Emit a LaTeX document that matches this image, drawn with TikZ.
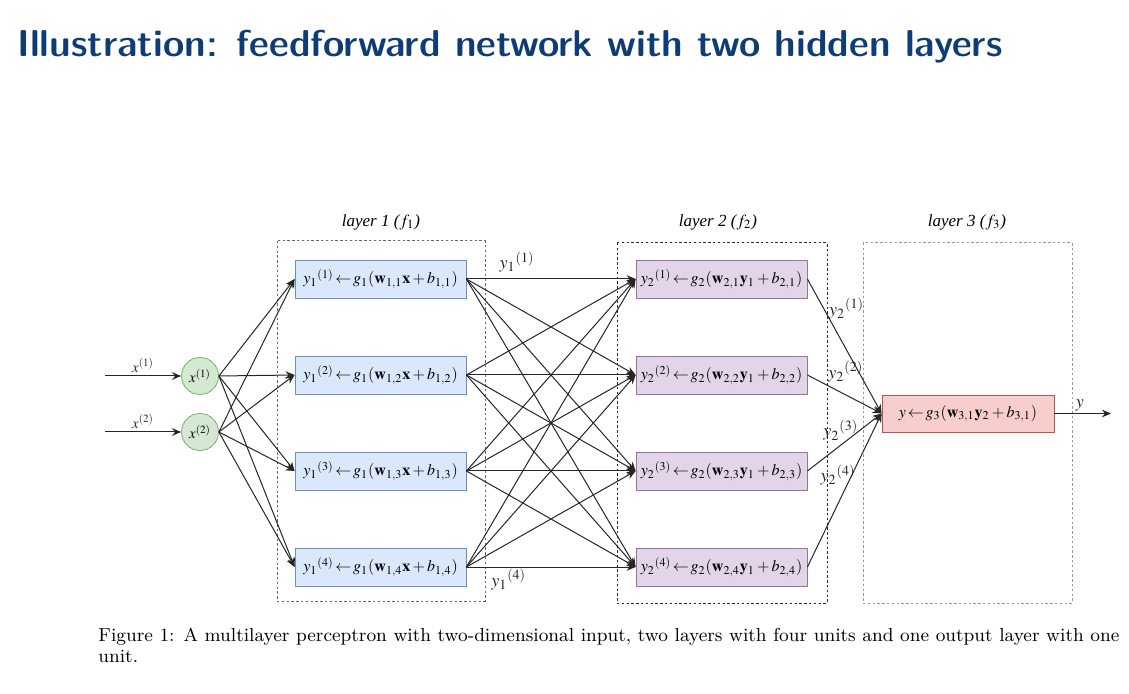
\documentclass[tikz,border=0pt]{standalone}
\usepackage{mathptmx}
\renewcommand{\rmdefault}{lmr}
\usepackage[no-math]{fontspec}
\usepackage{tikz}
\usetikzlibrary{positioning,arrows.meta}
\newfontfamily\drawiofont{Liberation Serif}
\definecolor{titleblue}{HTML}{0E3C74}
\definecolor{inputfill}{HTML}{D5E8D4}
\definecolor{inputline}{HTML}{82B366}
\definecolor{hiddenonefill}{HTML}{DAE8FC}
\definecolor{hiddenoneline}{HTML}{6C8EBF}
\definecolor{hiddentwofill}{HTML}{E1D5E7}
\definecolor{hiddentwoline}{HTML}{9673A6}
\definecolor{outputfill}{HTML}{F8CECC}
\definecolor{outputline}{HTML}{B85450}
\newcommand{\unitgets}{\!\leftarrow\!}
\tikzset{
  unitbox/.style={draw, minimum width=85.5pt, minimum height=19pt, inner sep=0pt, font=\fontsize{8}{9}\selectfont},
  inputnode/.style={circle, draw=inputline, fill=inputfill, minimum size=18.5pt, inner sep=0pt, font=\fontsize{7.5}{8}\selectfont},
  layeronenode/.style={unitbox, draw=hiddenoneline, fill=hiddenonefill},
  layertwonode/.style={unitbox, draw=hiddentwoline, fill=hiddentwofill},
  outputnode/.style={unitbox, minimum width=86pt, minimum height=18.5pt, draw=outputline, fill=outputfill},
  layerframe/.style={line width=0.5pt, dash pattern=on 1.2pt off 1.2pt},
  layerlabel/.style={font=\drawiofont\itshape\fontsize{8.5}{9}\selectfont},
  link/.style={-{Stealth[length=4.5pt,width=3.8pt]}, line width=0.5pt, black!85},
  edgelabel/.style={font=\fontsize{9}{10}\selectfont, inner sep=1pt},
  inlabel/.style={font=\fontsize{7.5}{8}\selectfont, inner sep=1.5pt}
}
\begin{document}
\begin{tikzpicture}[x=0.5pt,y=-0.5pt]
\useasboundingbox (0,0) rectangle (1129,694);
\node[anchor=base west, inner sep=0pt, text=titleblue, font=\sffamily\fontseries{sbc}\selectfont\fontsize{18.7}{20}\selectfont] (title) at (17,57) {\resizebox{492.5pt}{\height}{Illustration: feedforward network with two hidden layers}};

\draw[layerframe, black!60] (277,241) rectangle (485,601);
\draw[layerframe, black!85] (617,243) rectangle (827,603);
\draw[layerframe, black!40] (863,243) rectangle (1072,603);
\node[layerlabel] (lab1) at (381,222) {layer 1 ($f_1$)};
\node[layerlabel] (lab2) at (718,222) {layer 2 ($f_2$)};
\node[layerlabel] (lab3) at (967,222) {layer 3 ($f_3$)};

\coordinate (in1) at (105,376);
\coordinate (in2) at (105,432);
\coordinate (yend) at (1111,413.5);
\node[inputnode] (x1) at (200,376) {$x^{(1)}$};
\node[inputnode] (x2) at (200,432) {$x^{(2)}$};

\node[layeronenode] (h11) at (380.5,279) {$y_1{}^{(1)} \unitgets g_1(\mathbf{w}_{1,1}\mathbf{x} + b_{1,1})$};
\node[layeronenode] (h12) at (380.5,375) {$y_1{}^{(2)} \unitgets g_1(\mathbf{w}_{1,2}\mathbf{x} + b_{1,2})$};
\node[layeronenode] (h13) at (380.5,471) {$y_1{}^{(3)} \unitgets g_1(\mathbf{w}_{1,3}\mathbf{x} + b_{1,3})$};
\node[layeronenode] (h14) at (380.5,567) {$y_1{}^{(4)} \unitgets g_1(\mathbf{w}_{1,4}\mathbf{x} + b_{1,4})$};

\node[layertwonode] (h21) at (721.5,279) {$y_2{}^{(1)} \unitgets g_2(\mathbf{w}_{2,1}\mathbf{y}_1 + b_{2,1})$};
\node[layertwonode] (h22) at (721.5,375) {$y_2{}^{(2)} \unitgets g_2(\mathbf{w}_{2,2}\mathbf{y}_1 + b_{2,2})$};
\node[layertwonode] (h23) at (721.5,471) {$y_2{}^{(3)} \unitgets g_2(\mathbf{w}_{2,3}\mathbf{y}_1 + b_{2,3})$};
\node[layertwonode] (h24) at (721.5,567) {$y_2{}^{(4)} \unitgets g_2(\mathbf{w}_{2,4}\mathbf{y}_1 + b_{2,4})$};

\node[outputnode] (out) at (968,413.5) {$y \unitgets g_3(\mathbf{w}_{3,1}\mathbf{y}_2 + b_{3,1})$};

\draw[link] (in1) -- node[inlabel, above] (xlab1) {$x^{(1)}$} (x1);
\draw[link] (in2) -- node[inlabel, above] (xlab2) {$x^{(2)}$} (x2);

\draw[link] (x1.east) -- (h11.west); \draw[link] (x1.east) -- (h12.west);
\draw[link] (x1.east) -- (h13.west); \draw[link] (x1.east) -- (h14.west);
\draw[link] (x2.east) -- (h11.west); \draw[link] (x2.east) -- (h12.west);
\draw[link] (x2.east) -- (h13.west); \draw[link] (x2.east) -- (h14.west);

\draw[link] (h11.east) -- node[edgelabel, above=2pt, pos=0.3] (ylab11) {$y_1{}^{(1)}$} (h21.west);
\draw[link] (h11.east) -- (h22.west); \draw[link] (h11.east) -- (h23.west); \draw[link] (h11.east) -- (h24.west);
\draw[link] (h12.east) -- (h21.west); \draw[link] (h12.east) -- (h22.west);
\draw[link] (h12.east) -- (h23.west); \draw[link] (h12.east) -- (h24.west);
\draw[link] (h13.east) -- (h21.west); \draw[link] (h13.east) -- (h22.west);
\draw[link] (h13.east) -- (h23.west); \draw[link] (h13.east) -- (h24.west);
\draw[link] (h14.east) -- (h21.west); \draw[link] (h14.east) -- (h22.west); \draw[link] (h14.east) -- (h23.west);
\draw[link] (h14.east) -- node[edgelabel, below, pos=0.25] (ylab14) {$y_1{}^{(4)}$} (h24.west);

\draw[link] (h21.east) -- node[edgelabel, right=1.5pt, pos=0.22] (ylab21) {$y_2{}^{(1)}$} (out.west);
\draw[link] (h22.east) -- node[edgelabel, above right=0pt, pos=0.25] (ylab22) {$y_2{}^{(2)}$} (out.west);
\draw[link] (h23.east) -- node[edgelabel, above=1pt, pos=0.45] (ylab23) {$y_2{}^{(3)}$} (out.west);
\draw[link] (h24.east) -- node[edgelabel, left=-3pt, pos=0.6] (ylab24) {$y_2{}^{(4)}$} (out.west);

\draw[link] (out.east) -- node[edgelabel, above, pos=0.45] (ylab) {$y$} (yend);

\node[anchor=base west, inner sep=0pt, font=\rmfamily\fontsize{9.4}{10.5}\selectfont] (cap1) at (98,641) {\makebox[510.5pt][s]{Figure 1: A multilayer perceptron with two-dimensional input, two layers with four units and one output layer with one}};
\node[anchor=base west, inner sep=0pt, font=\rmfamily\fontsize{9.4}{10.5}\selectfont] (cap2) at (98,662) {unit.};
\end{tikzpicture}
\end{document}
